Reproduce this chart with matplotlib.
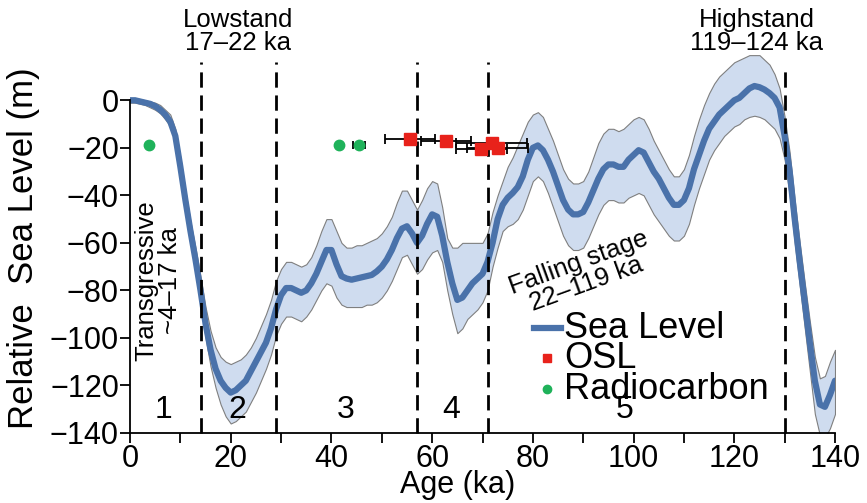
import matplotlib
matplotlib.use("Agg")
import matplotlib.pyplot as plt

plt.rcParams['font.family'] = ['Liberation Sans', 'DejaVu Sans']

# sea level reconstruction, 1 ka steps (m relative to present)
age = list(range(0, 141))
sea_level = [
    0, 0, -0.5, -1, -1.5, -2.5, -4, -6, -9, -15,
    -28, -42, -55, -67, -80, -94, -105, -113, -118, -121,
    -123, -122, -120, -118, -114, -110, -106, -102, -96, -88,
    -82, -79, -79, -80, -81, -80, -77, -73, -68, -63,
    -63, -69, -74, -75, -75.5, -75, -74.5, -74, -73.5, -72,
    -70, -67, -63, -58, -54, -53, -56, -60, -57, -52,
    -48, -49, -57, -68, -77, -84, -83, -80, -77, -75,
    -73, -68, -60, -50, -44, -41, -39, -36.5, -32, -25,
    -20, -19, -21, -25, -30, -36, -42, -46, -48, -48,
    -47, -43, -38, -33, -29, -27, -27, -28, -28, -25,
    -23, -21, -22, -26, -30, -33, -37, -41, -44, -44,
    -42, -37, -29, -23, -17, -12, -9, -6, -4, -2,
    0, 1, 3, 5, 6, 5.5, 4.5, 3, 1, -3,
    -15, -30, -50, -68, -85, -102, -118, -128, -129, -124,
    -118,
]
sea_upper = [
    1, 1, 0.5, 0, -0.5, -1, -2, -4, -6, -12,
    -24, -38, -51, -62, -74, -87, -97, -104, -108, -110,
    -111, -110, -109, -107, -104, -100, -95, -90, -84, -76,
    -71, -68, -68, -69, -70, -69, -66, -61, -55, -50,
    -50, -55, -60, -62, -62, -61, -61, -60, -59, -58,
    -56, -53, -49, -43, -38, -38, -42, -46, -42, -37,
    -34, -35, -45, -58, -62, -62, -60, -60, -60, -60,
    -60, -56, -47, -40, -34, -28, -24, -19, -14, -9,
    -6, -5, -7, -12, -17, -23, -29, -33, -35, -35,
    -34, -30, -24, -18, -14, -12, -12, -13, -12, -10,
    -8, -7, -8, -12, -17, -21, -25, -29, -32, -32,
    -29, -23, -15, -8, -2, 3, 7, 10, 12, 14,
    16, 17, 18, 19, 19, 19, 17, 15, 11, 5,
    -7, -22, -42, -60, -77, -93, -108, -117, -116, -110,
    -105,
]
sea_lower = [
    -1, -1, -1.5, -2, -3, -4, -5.5, -8, -11, -18,
    -32, -46, -59, -72, -85, -100, -112, -121, -128, -133,
    -136, -135, -133, -131, -127, -123, -118, -113, -107, -99,
    -94, -91, -91, -92, -93, -91, -88, -84, -80, -77,
    -78, -83, -86, -87, -87, -87, -87, -86, -86, -85,
    -83, -80, -76, -71, -66, -65, -69, -73, -71, -67,
    -64, -63, -68, -80, -90, -98, -96, -92, -90, -88,
    -85, -80, -70, -62, -55, -53, -52, -50, -46, -40,
    -34, -32, -34, -39, -45, -51, -57, -61, -63, -63,
    -62, -58, -53, -48, -44, -42, -42, -43, -43, -41,
    -40, -39, -40, -44, -48, -51, -54, -57, -59, -59,
    -57, -52, -44, -37, -31, -25, -21, -18, -15, -13,
    -11, -10, -8, -7, -6.5, -7, -8, -10, -12, -16,
    -25, -40, -60, -78, -96, -114, -132, -141, -142, -138,
    -132,
]

# OSL ages (ka), elevations (m) and age errors (ka)
osl_age = [55.6, 62.7, 69.8, 71.8, 73.0]
osl_elev = [-16.5, -17.0, -20.5, -18.0, -20.0]
osl_err = [5.0, 5.0, 5.0, 7.0, 6.0]

# radiocarbon ages (ka), elevations (m) and age errors (ka)
c14_age = [3.8, 41.5, 45.5]
c14_elev = [-19.0, -19.0, -19.0]
c14_err = [0.3, 0.3, 1.2]

# marine isotope stage boundaries (ka) and their labels
mis_bounds = [14, 29, 57, 71, 130]
mis_tops = [16, 16, 16, 16, 15]
mis_labels = ['1', '2', '3', '4', '5']
mis_label_x = [6.6, 21.3, 42.8, 63.7, 98.2]

line_blue = '#4a72aa'
band_blue = '#cfdcef'
osl_red = '#e8221b'
c14_green = '#1fb25a'

fig = plt.figure(figsize=(8.67, 5.03), dpi=100)
ax = fig.add_axes([130 / 867, 70 / 503, 705 / 867, 385 / 503])

ax.fill_between(age, sea_lower, sea_upper, facecolor=band_blue, edgecolor='#7f7f7f',
                linewidth=0.8, zorder=1)
ax.plot(age, sea_level, color=line_blue, linewidth=4.5, solid_capstyle='round', zorder=2)

for xb, top in zip(mis_bounds, mis_tops):
    ax.plot([xb, xb], [-140, top], color='black', linewidth=2.0,
            linestyle=(0, (5.5, 2.8)), zorder=3, clip_on=False)

ax.errorbar(osl_age, osl_elev, xerr=osl_err, fmt='none', ecolor='black',
            elinewidth=1.3, capsize=3.5, capthick=1.3, zorder=4)
ax.plot(osl_age, osl_elev, 's', color=osl_red, markersize=8, zorder=5)
ax.errorbar(c14_age, c14_elev, xerr=c14_err, fmt='none', ecolor='black',
            elinewidth=1.3, capsize=3, capthick=1.3, zorder=4)
ax.plot(c14_age, c14_elev, 'o', color=c14_green, markersize=7.5, zorder=5)

for lbl, xl in zip(mis_labels, mis_label_x):
    ax.text(xl, -130.5, lbl, fontsize=23, ha='center', va='center')

note_fs = 18.5
ax.text(21.5, 29, 'Lowstand\n17\u201322 ka', fontsize=note_fs, ha='center', va='center',
        linespacing=0.95, clip_on=False)
ax.text(124.5, 29, 'Highstand\n119\u2013124 ka', fontsize=note_fs, ha='center',
        va='center', linespacing=0.95, clip_on=False)
ax.text(5.6, -76, 'Transgressive\n~4\u201317 ka', fontsize=note_fs, ha='center',
        va='center', rotation=90, linespacing=0.95)
ax.text(89.8, -73, 'Falling stage\n22\u2013119 ka', fontsize=note_fs, ha='center',
        va='center', rotation=20, linespacing=0.95, rotation_mode='anchor')

# legend drawn by hand so the rows sit as tight as the labels
leg_y = [-96, -108.5, -121.5]
ax.plot([80.2, 85.6], [leg_y[0], leg_y[0]], color=line_blue, linewidth=4.5)
ax.plot([82.9], [leg_y[1]], 's', color=osl_red, markersize=6)
ax.plot([82.9], [leg_y[2]], 'o', color=c14_green, markersize=6)
for txt, yl in zip(['Sea Level', 'OSL', 'Radiocarbon'], leg_y):
    ax.text(86.2, yl, txt, fontsize=26, ha='left', va='center')

ax.set_xlim(0, 140)
ax.set_ylim(-140, 22)
ax.set_xticks(range(0, 141, 20))
ax.set_xticks(range(10, 140, 20), minor=True)
ax.set_yticks(range(-140, 1, 20))
ax.set_yticklabels(['\u2212%d' % abs(v) if v else '0' for v in range(-140, 1, 20)])
ax.tick_params(axis='both', which='both', direction='out', width=1.3, labelsize=22,
               pad=1)
ax.tick_params(axis='both', which='major', length=7)
ax.tick_params(axis='x', which='minor', length=7)

for side in ['top', 'right']:
    ax.spines[side].set_visible(False)
ax.spines['left'].set_bounds(-140, 0)
ax.spines['left'].set_linewidth(1.3)
ax.spines['bottom'].set_linewidth(1.3)

ax.set_xlabel('Age (ka)', fontsize=22)
ax.xaxis.set_label_coords(0.465, -0.096)
ax.set_ylabel('Relative  Sea Level (m)', fontsize=25)
ax.yaxis.set_label_coords(-0.127, 0.479)

fig.savefig('out.png', dpi=100)
